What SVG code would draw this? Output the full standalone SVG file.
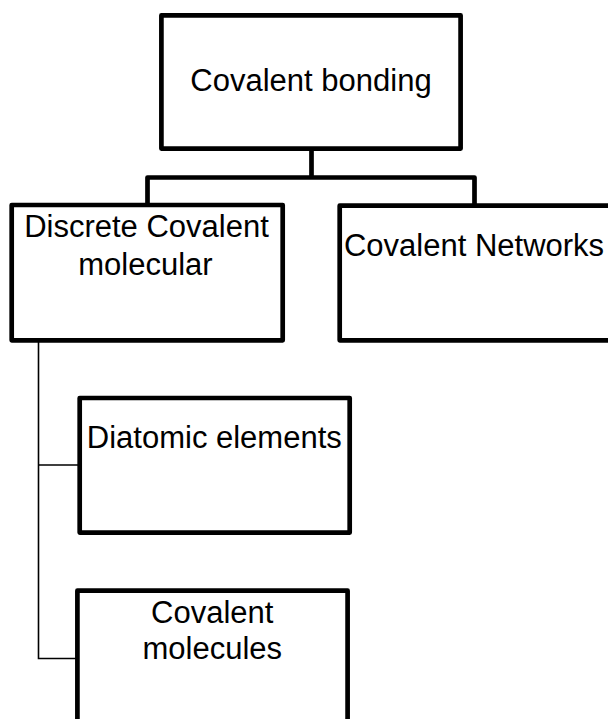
<svg xmlns="http://www.w3.org/2000/svg" width="608" height="719" viewBox="0 0 608 719">
<style>
.box{fill:#fff;stroke:#000;stroke-width:4.7;stroke-linejoin:round}
.lbl{font-family:"Liberation Sans",Arial,sans-serif;font-size:31px;fill:#000;text-anchor:middle}
.thick{fill:none;stroke:#000;stroke-width:4.7;stroke-linejoin:round}
.thin{fill:none;stroke:#000;stroke-width:1.6}
</style>
<rect width="608" height="719" fill="#fff"/>
<g id="connectors">
<path class="thick" d="M311.5,150 V177.5 M147.5,204 V177.5 H474.5 V204"/>
<path class="thin" d="M38.5,341 V658.5 H76 M38.5,465 H78"/>
</g>
<g id="node-covalent-bonding">
<rect class="box" x="161.4" y="15.4" width="299.2" height="133.2"/>
<text class="lbl" x="311" y="91">Covalent bonding</text>
</g>
<g id="node-discrete">
<rect class="box" x="11.7" y="205" width="271" height="135.3"/>
<text class="lbl" x="146.5" y="236.7">Discrete Covalent</text>
<text class="lbl" x="145.5" y="275">molecular</text>
</g>
<g id="node-networks">
<rect class="box" x="339.7" y="205.7" width="271" height="134.6"/>
<text class="lbl" x="474" y="256">Covalent Networks</text>
</g>
<g id="node-diatomic">
<rect class="box" x="79.7" y="398" width="270" height="134.6"/>
<text class="lbl" x="214.3" y="448.3">Diatomic elements</text>
</g>
<g id="node-covalent-molecules">
<rect class="box" x="77.4" y="590.7" width="270.2" height="134.6"/>
<text class="lbl" x="212.3" y="622.5">Covalent</text>
<text class="lbl" x="212.3" y="659">molecules</text>
</g>
</svg>
